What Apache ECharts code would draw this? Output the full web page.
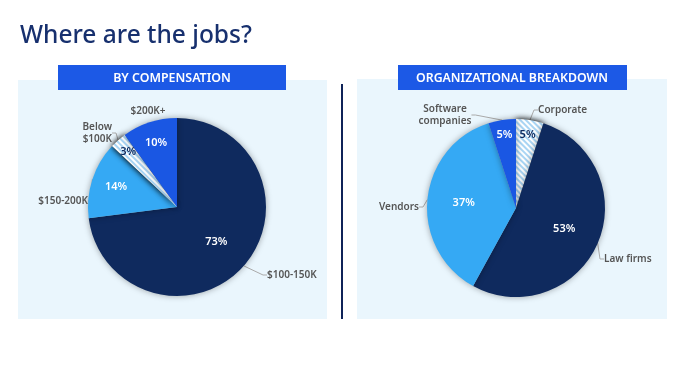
<!DOCTYPE html>
<html>
<head>
<meta charset="utf-8">
<script src="https://cdn.jsdelivr.net/npm/echarts@6/dist/echarts.min.js"></script>
<style>
html,body{margin:0;padding:0;background:#fff;}
#c{width:685px;height:385px;}
</style>
</head>
<body>
<div id="c"></div>
<script>
// ---- data ----
const compCategories = ['$100-150K', '$150-200K', 'Below\n$100K', '$200K+'];
const compValues = [73, 14, 3, 10];
const orgCategories = ['Corporate', 'Law firms', 'Vendors', 'Software\ncompanies'];
const orgValues = [5, 53, 37, 5];
const titleText = 'Where are the jobs?';
const leftHeader = 'BY COMPENSATION';
const rightHeader = 'ORGANIZATIONAL BREAKDOWN';

// ---- layout / styles (not data) ----
const NAVY = '#0f2a5e';
const BLUE = '#1a57e3';
const LIGHT = '#35a9f4';
const STRIPE = '#a9d5f4';
const FONT = '"Noto Sans", sans-serif';
const RADIUS = 89;
const compCenter = [177, 207];
const orgCenter = [516, 208];

// outer label anchors (layout only)
const compLabelSpots = [
  { x: 267, y: 275, align: 'left', line: true },
  { x: 88, y: 201, align: 'right', line: true },
  { x: 112, y: 133, align: 'right', line: true },
  { x: 148, y: 111, align: 'center', line: false }
];
const orgLabelSpots = [
  { x: 538, y: 110, align: 'left', line: true },
  { x: 604, y: 259, align: 'left', line: true },
  { x: 419, y: 207, align: 'right', line: true },
  { x: 445, y: 115, align: 'center', line: true }
];

const hatch = {
  color: '#ffffff',
  decal: {
    symbol: 'rect',
    symbolSize: 1,
    color: STRIPE,
    backgroundColor: '#ffffff',
    dashArrayX: [1, 0],
    dashArrayY: [2, 2],
    rotation: Math.PI / 4
  }
};

const compColors = [NAVY, LIGHT, null, BLUE];
const compInsideColor = ['#fff', '#fff', NAVY, '#fff'];
const orgColors = [null, NAVY, LIGHT, BLUE];
const orgInsideColor = [NAVY, '#fff', '#fff', '#fff'];

function buildData(cats, vals, colors, insideColors) {
  return cats.map((c, i) => {
    const item = { name: c, value: vals[i] };
    item.itemStyle = colors[i] ? { color: colors[i] } : Object.assign({}, hatch);
    item.label = { color: insideColors[i] };
    return item;
  });
}

// radial distance of inside labels: larger share -> closer to centre
function insideRatio(v) {
  if (v >= 30) return 0.59;
  if (v >= 12) return 0.72;
  if (v >= 8) return 0.76;
  return 0.83;
}

function pieSeries(center, cats, vals, colors, insideColors, spots) {
  const total = vals.reduce((a, b) => a + b, 0);
  const mids = [];
  let acc = 0;
  vals.forEach(v => { mids.push((acc + v / 2) / total * Math.PI * 2); acc += v; });
  const base = {
    type: 'pie',
    center: center,
    radius: [0, RADIUS],
    startAngle: 90,
    clockwise: true,
    avoidLabelOverlap: false,
    animation: false,
    silent: true
  };
  return [
    Object.assign({}, base, {
      data: buildData(cats, vals, colors, insideColors),
      itemStyle: { shadowBlur: 6, shadowColor: 'rgba(0,0,0,0.35)', borderWidth: 0 },
      label: {
        show: true, position: 'inside', fontFamily: FONT, fontSize: 11, fontWeight: 600,
        formatter: p => p.value + '%'
      },
      labelLine: { show: false },
      labelLayout: p => {
        const a = mids[p.dataIndex];
        const d = insideRatio(vals[p.dataIndex]) * RADIUS;
        return { x: center[0] + d * Math.sin(a), y: center[1] - d * Math.cos(a), align: 'center', verticalAlign: 'middle' };
      }
    }),
    Object.assign({}, base, {
      data: cats.map((c, i) => ({ name: c, value: vals[i], labelLine: { show: spots[i].line } })),
      itemStyle: { color: 'rgba(0,0,0,0)' },
      label: {
        show: true, position: 'outside', fontFamily: FONT, fontSize: 10, fontWeight: 600,
        color: '#555', lineHeight: 12, formatter: p => p.name
      },
      labelLine: { show: true, length: 6, length2: 4, lineStyle: { color: '#aaa', width: 1 } },
      labelLayout: p => {
        const s = spots[p.dataIndex];
        return { x: s.x, y: s.y, align: s.align, verticalAlign: 'middle' };
      }
    })
  ];
}

const chart = echarts.init(document.getElementById('c'), null, { renderer: 'canvas' });
chart.setOption({
  backgroundColor: '#ffffff',
  graphic: [
    { type: 'rect', shape: { x: 18, y: 80, width: 309, height: 239 }, style: { fill: '#eaf6fd' }, silent: true },
    { type: 'rect', shape: { x: 357, y: 79, width: 310, height: 240 }, style: { fill: '#eaf6fd' }, silent: true },
    { type: 'rect', shape: { x: 58, y: 65, width: 228, height: 25 }, style: { fill: '#1c59e6' }, silent: true },
    { type: 'rect', shape: { x: 398, y: 65, width: 229, height: 25 }, style: { fill: '#1c59e6' }, silent: true },
    { type: 'text', x: 172, y: 78, style: { text: leftHeader, fill: '#fff', font: '600 12.4px ' + FONT, textAlign: 'center', textVerticalAlign: 'middle' }, silent: true },
    { type: 'text', x: 512, y: 78, style: { text: rightHeader, fill: '#fff', font: '600 12.3px ' + FONT, textAlign: 'center', textVerticalAlign: 'middle' }, silent: true },
    { type: 'line', shape: { x1: 342, y1: 84, x2: 342, y2: 319 }, style: { stroke: '#0f2358', lineWidth: 2 }, silent: true },
    { type: 'text', x: 20, y: 36, style: { text: titleText, fill: '#17306e', font: '500 24.5px ' + FONT, textVerticalAlign: 'middle' }, silent: true }
  ],
  series: [].concat(
    pieSeries(compCenter, compCategories, compValues, compColors, compInsideColor, compLabelSpots),
    pieSeries(orgCenter, orgCategories, orgValues, orgColors, orgInsideColor, orgLabelSpots)
  )
});
</script>
</body>
</html>
